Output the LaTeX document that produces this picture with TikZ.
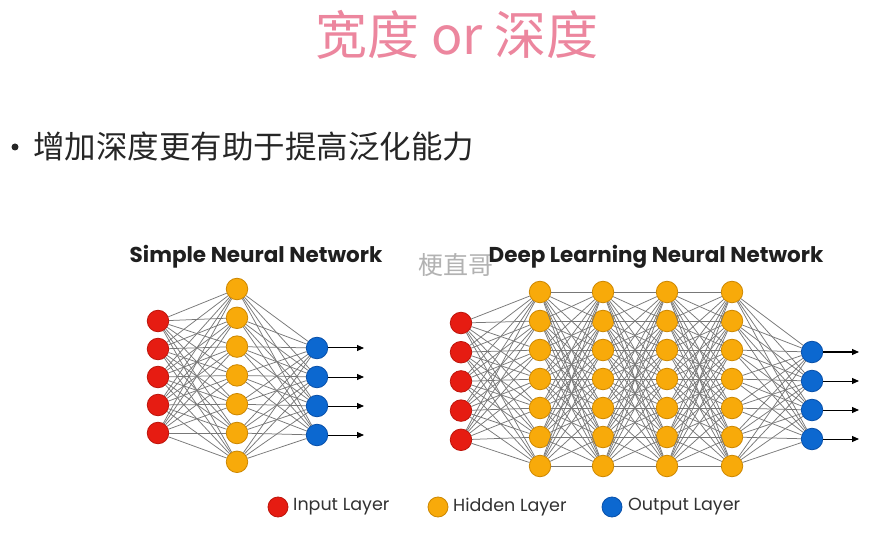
\documentclass[tikz,border=0pt]{standalone}
\usepackage{fontspec}
\setmainfont{Poppins}
\newfontfamily\cjk{Noto Sans CJK SC}
\usetikzlibrary{arrows.meta}
\definecolor{pinkt}{RGB}{236,134,158}
\definecolor{inred}{RGB}{230,28,18}
\definecolor{inredd}{RGB}{190,20,10}
\definecolor{hidor}{RGB}{248,170,10}
\definecolor{hidord}{RGB}{205,135,0}
\definecolor{outbl}{RGB}{12,104,208}
\definecolor{outbld}{RGB}{8,80,170}
\definecolor{edgeg}{RGB}{120,120,120}
\definecolor{legtext}{RGB}{50,50,50}
\tikzset{
  neuron/.style={circle, minimum size=21.5pt, inner sep=0pt, line width=0.8pt},
  inn/.style={neuron, fill=inred, draw=inredd},
  hid/.style={neuron, fill=hidor, draw=hidord},
  outn/.style={neuron, fill=outbl, draw=outbld},
  leg/.style={circle, minimum size=20pt, inner sep=0pt, line width=0.8pt},
  legtxt/.style={anchor=west, font=\fontsize{17.5}{17.5}\selectfont, text=legtext, inner sep=0pt},
  conn/.style={draw=edgeg, line width=0.75pt},
  outarrow/.style={draw=black, line width=1pt, -{Triangle[length=7pt,width=6pt]}},
  nettitle/.style={font=\bfseries\fontsize{21.5}{21.5}\selectfont, text=black!88}
}
\begin{document}
\begin{tikzpicture}[x=1pt,y=-1pt]
\useasboundingbox[fill=white] (0,0) rectangle (891,534);
\node[font=\cjk\fontsize{52}{52}\selectfont, text=pinkt] (title) at (457,35) {宽度 or 深度};
\node[circle, fill=black!85, minimum size=7pt, inner sep=0pt] (dot) at (15,147) {};
\node[anchor=west, inner sep=0pt, font=\cjk\fontsize{31.5}{31.5}\selectfont, text=black!85] (bullet) at (33,147) {增加深度更有助于提高泛化能力};

% Simple network
\node[nettitle] (t1) at (256,257) {Simple Neural Network};
\foreach \i in {0,...,4} \node[inn] (si\i) at (158,{321+28*\i}) {};
\foreach \i in {0,...,6} \node[hid] (sh\i) at (237,{289+28.8*\i}) {};
\foreach \i in {0,...,3} \node[outn] (so\i) at (317,{348+29*\i}) {};
\foreach \i in {0,...,4} \foreach \j in {0,...,6} \draw[conn] (si\i) -- (sh\j);
\foreach \i in {0,...,6} \foreach \j in {0,...,3} \draw[conn] (sh\i) -- (so\j);
\foreach \j in {0,...,3} {
  \coordinate (se\j) at (364,{348+29*\j});
  \draw[outarrow] (so\j) -- (se\j);
}

% Deep network
\node[font=\cjk\fontsize{25}{25}\selectfont, text=black!30] (wm) at (456,265) {梗直哥};
\node[nettitle] (t2) at (656,257) {Deep Learning Neural Network};
\foreach \i in {0,...,4} \node[inn] (di\i) at (461,{323+29.2*\i}) {};
\foreach \x [count=\k] in {540,603,667,732}
  \foreach \i in {0,...,6} \node[hid] (dh\k-\i) at (\x,{292+29*\i}) {};
\foreach \i in {0,...,3} \node[outn] (do\i) at (812,{352+29*\i}) {};
\foreach \i in {0,...,4} \foreach \j in {0,...,6} \draw[conn] (di\i) -- (dh1-\j);
\foreach \k [evaluate=\k as \kn using int(\k+1)] in {1,2,3}
  \foreach \i in {0,...,6} \foreach \j in {0,...,6} \draw[conn] (dh\k-\i) -- (dh\kn-\j);
\foreach \i in {0,...,6} \foreach \j in {0,...,3} \draw[conn] (dh4-\i) -- (do\j);
\foreach \j in {0,...,3} {
  \coordinate (de\j) at (859,{352+29*\j});
  \draw[outarrow] (do\j) -- (de\j);
}

% Legend
\node[leg, fill=inred, draw=inredd] (l1) at (278,507) {};
\node[legtxt] (l1t) at (293,507) {Input Layer};
\node[leg, fill=hidor, draw=hidord] (l2) at (438,507) {};
\node[legtxt] (l2t) at (453,507) {Hidden Layer};
\node[leg, fill=outbl, draw=outbld] (l3) at (612,507) {};
\node[legtxt] (l3t) at (628,507) {Output Layer};
\end{tikzpicture}
\end{document}
